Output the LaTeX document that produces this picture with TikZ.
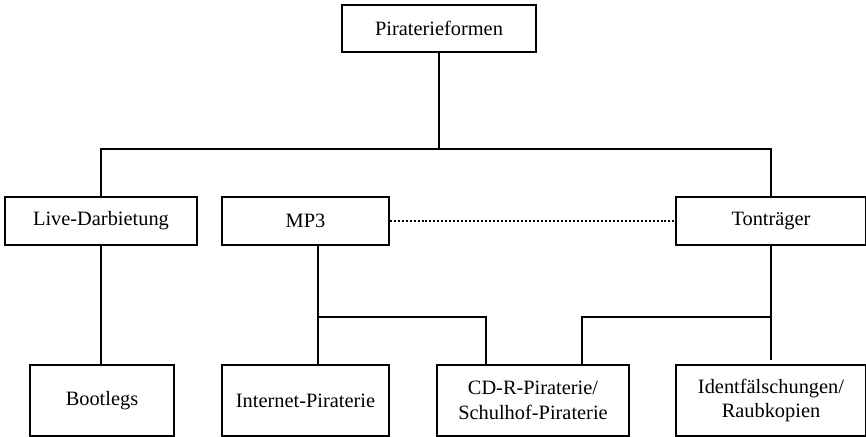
\documentclass[tikz,border=0pt]{standalone}
\usepackage{fontspec}
\setmainfont{Liberation Serif}
\usetikzlibrary{positioning}
\tikzset{
  formbox/.style={draw, rectangle, line width=1.1pt, minimum height=1.44cm, inner sep=2pt, font=\fontsize{17.4}{21}\selectfont},
  leafbox/.style={formbox, minimum height=2.13cm, align=center},
  branch/.style={line width=1.1pt},
  linkdots/.style={line width=1.1pt, dash pattern=on 1.7pt off 1.7pt}
}
\begin{document}
\begin{tikzpicture}
      \useasboundingbox (-3.03,-6.48) rectangle (22.95,6.63);
      \node[formbox, minimum width=5.76cm] (live) at (0,0) {Live-Darbietung};
      \node[formbox, minimum width=5.01cm, right of=live, node distance=6.135cm] (mp3) {MP3};
      \node[formbox, minimum width=5.7cm, right of=live, node distance=20.1cm] (ton) {Tontr\"ager};
      \node[formbox, minimum width=5.82cm, minimum height=1.41cm] (top) at (10.14,5.775) {Piraterieformen};
      \node[leafbox, minimum width=4.32cm, below of=live, node distance=5.385cm, xshift=0.03cm] (boot) {Bootlegs};
      \node[leafbox, minimum width=5.01cm, below of=mp3, node distance=5.385cm] (inet) {Internet-Piraterie};
      \node[leafbox, minimum width=5.76cm, right of=inet, node distance=6.825cm] (cdr) {CD-R-Piraterie/\\Schulhof-Piraterie};
      \node[leafbox, minimum width=5.7cm, below of=ton, node distance=5.385cm] (ident) {Identf\"alschungen/\\Raubkopien};
      \coordinate (bus) at (top.south |- 0,2.16);
      \coordinate[xshift=0.375cm] (mp3out) at (mp3.south);
      \coordinate (mp3bus) at (mp3out |- 0,-2.88);
      \coordinate (tonbus) at (ton.south |- 0,-2.88);
      \coordinate (tonend) at ([yshift=0.12cm]ident.north);
      \coordinate[xshift=-1.41cm] (cdrleft) at (cdr.north);
      \coordinate[xshift=1.47cm] (cdrright) at (cdr.north);
      \draw[branch] (top.south) -- (bus);
      \draw[branch] (boot.north -| live.south) -- (live.south);
      \draw[branch] (live.north) |- (bus) -| (ton.north);
      \draw[branch] (mp3out) -- (mp3bus) -| (cdrleft);
      \draw[branch] (mp3bus) -- (mp3bus |- inet.north);
      \draw[branch] (ton.south) -- (tonend);
      \draw[branch] (tonbus) -| (cdrright);
      \draw[linkdots] (mp3.east) -- (ton.west);
    \end{tikzpicture}
\end{document}
